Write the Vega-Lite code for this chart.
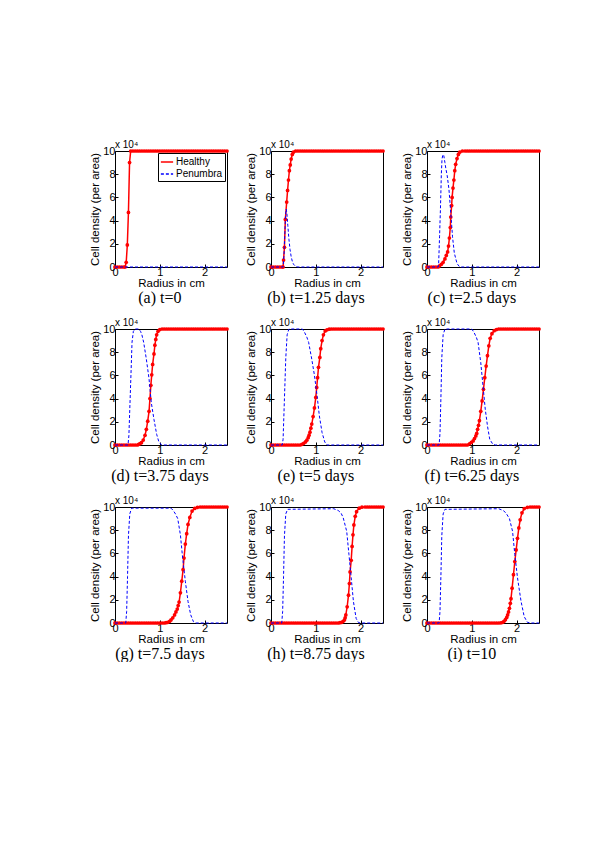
{
"$schema":"https://vega.github.io/schema/vega-lite/v6.json",
"padding":{"left":89,"top":139,"right":0,"bottom":0},
"background":"#ffffff",
"config":{
 "view":{"stroke":"#000","strokeWidth":1},
 "font":"Liberation Sans",
 "axis":{"grid":false,"domain":false,"tickColor":"#000","tickSize":-3,"labelColor":"#000","labelFont":"Liberation Sans","labelFontSize":11,"labelOverlap":false,"titleFont":"Liberation Sans","titleFontSize":11.5,"titleFontWeight":"normal","titleColor":"#000","labelPadding":2,"labelFlush":false},
 "axisX":{"titlePadding":0},
 "axisY":{"titlePadding":2,"labelPadding":3},
 "title":{"orient":"bottom","font":"Liberation Serif","fontSize":16,"fontWeight":"normal","color":"#000","frame":"bounds","offset":1},
 "legend":{"orient":"top-right","offset":2,"symbolType":"stroke","symbolSize":150,"symbolStrokeWidth":1.3,"labelFontSize":10,"labelFont":"Liberation Sans","labelColor":"#000","strokeColor":"#000","fillColor":"#fff","padding":2,"rowPadding":0,"labelOffset":2}
},
"resolve":{"scale":{"color":"independent","strokeDash":"independent"},"legend":{"color":"independent","strokeDash":"independent"}},
"columns":3,
"spacing":{"row":11,"column":14},
"datasets":{
"a":[{"s":"H","r":0,"d":0},{"s":"H","r":0.05,"d":0},{"s":"H","r":0.1,"d":0},{"s":"H","r":0.15,"d":0},{"s":"H","r":0.2,"d":0},{"s":"H","r":0.225,"d":0},{"s":"H","r":0.25,"d":0.4},{"s":"H","r":0.275,"d":1.9},{"s":"H","r":0.3,"d":4.7},{"s":"H","r":0.325,"d":9},{"s":"H","r":0.35,"d":10},{"s":"H","r":0.4,"d":10},{"s":"H","r":0.45,"d":10},{"s":"H","r":0.5,"d":10},{"s":"H","r":0.55,"d":10},{"s":"H","r":0.6,"d":10},{"s":"H","r":0.65,"d":10},{"s":"H","r":0.7,"d":10},{"s":"H","r":0.75,"d":10},{"s":"H","r":0.8,"d":10},{"s":"H","r":0.85,"d":10},{"s":"H","r":0.9,"d":10},{"s":"H","r":0.95,"d":10},{"s":"H","r":1,"d":10},{"s":"H","r":1.05,"d":10},{"s":"H","r":1.1,"d":10},{"s":"H","r":1.15,"d":10},{"s":"H","r":1.2,"d":10},{"s":"H","r":1.25,"d":10},{"s":"H","r":1.3,"d":10},{"s":"H","r":1.35,"d":10},{"s":"H","r":1.4,"d":10},{"s":"H","r":1.45,"d":10},{"s":"H","r":1.5,"d":10},{"s":"H","r":1.55,"d":10},{"s":"H","r":1.6,"d":10},{"s":"H","r":1.65,"d":10},{"s":"H","r":1.7,"d":10},{"s":"H","r":1.75,"d":10},{"s":"H","r":1.8,"d":10},{"s":"H","r":1.85,"d":10},{"s":"H","r":1.9,"d":10},{"s":"H","r":1.95,"d":10},{"s":"H","r":2,"d":10},{"s":"H","r":2.05,"d":10},{"s":"H","r":2.1,"d":10},{"s":"H","r":2.15,"d":10},{"s":"H","r":2.2,"d":10},{"s":"H","r":2.25,"d":10},{"s":"H","r":2.3,"d":10},{"s":"H","r":2.35,"d":10},{"s":"H","r":2.4,"d":10},{"s":"H","r":2.45,"d":10},{"s":"H","r":2.5,"d":10},
{"s":"P","r":0,"d":0},{"s":"P","r":2.5,"d":0}],
"b":[{"s":"H","r":0,"d":0},{"s":"H","r":0.05,"d":0},{"s":"H","r":0.1,"d":0},{"s":"H","r":0.15,"d":0},{"s":"H","r":0.2,"d":0},{"s":"H","r":0.25,"d":0},{"s":"H","r":0.27,"d":0},{"s":"H","r":0.28,"d":0.6},{"s":"H","r":0.3,"d":1.7},{"s":"H","r":0.32,"d":4.1},{"s":"H","r":0.35,"d":5.6},{"s":"H","r":0.37,"d":6.6},{"s":"H","r":0.39,"d":7.5},{"s":"H","r":0.41,"d":8.3},{"s":"H","r":0.43,"d":8.8},{"s":"H","r":0.45,"d":9.3},{"s":"H","r":0.475,"d":9.7},{"s":"H","r":0.5,"d":9.9},{"s":"H","r":0.55,"d":10},{"s":"H","r":0.6,"d":10},{"s":"H","r":0.65,"d":10},{"s":"H","r":0.7,"d":10},{"s":"H","r":0.75,"d":10},{"s":"H","r":0.8,"d":10},{"s":"H","r":0.85,"d":10},{"s":"H","r":0.9,"d":10},{"s":"H","r":0.95,"d":10},{"s":"H","r":1,"d":10},{"s":"H","r":1.05,"d":10},{"s":"H","r":1.1,"d":10},{"s":"H","r":1.15,"d":10},{"s":"H","r":1.2,"d":10},{"s":"H","r":1.25,"d":10},{"s":"H","r":1.3,"d":10},{"s":"H","r":1.35,"d":10},{"s":"H","r":1.4,"d":10},{"s":"H","r":1.45,"d":10},{"s":"H","r":1.5,"d":10},{"s":"H","r":1.55,"d":10},{"s":"H","r":1.6,"d":10},{"s":"H","r":1.65,"d":10},{"s":"H","r":1.7,"d":10},{"s":"H","r":1.75,"d":10},{"s":"H","r":1.8,"d":10},{"s":"H","r":1.85,"d":10},{"s":"H","r":1.9,"d":10},{"s":"H","r":1.95,"d":10},{"s":"H","r":2,"d":10},{"s":"H","r":2.05,"d":10},{"s":"H","r":2.1,"d":10},{"s":"H","r":2.15,"d":10},{"s":"H","r":2.2,"d":10},{"s":"H","r":2.25,"d":10},{"s":"H","r":2.3,"d":10},{"s":"H","r":2.35,"d":10},{"s":"H","r":2.4,"d":10},{"s":"H","r":2.45,"d":10},{"s":"H","r":2.5,"d":10},
{"s":"P","r":0,"d":0},{"s":"P","r":0.27,"d":0},{"s":"P","r":0.29,"d":1},{"s":"P","r":0.31,"d":3},{"s":"P","r":0.325,"d":4.5},{"s":"P","r":0.34,"d":5},{"s":"P","r":0.355,"d":4.6},{"s":"P","r":0.375,"d":3.6},{"s":"P","r":0.4,"d":2.4},{"s":"P","r":0.425,"d":1.5},{"s":"P","r":0.45,"d":0.9},{"s":"P","r":0.475,"d":0.5},{"s":"P","r":0.5,"d":0.25},{"s":"P","r":0.55,"d":0.05},{"s":"P","r":0.6,"d":0},{"s":"P","r":2.5,"d":0}],
"c":[{"s":"H","r":0,"d":0},{"s":"H","r":0.05,"d":0},{"s":"H","r":0.1,"d":0},{"s":"H","r":0.15,"d":0},{"s":"H","r":0.2,"d":0},{"s":"H","r":0.25,"d":0},{"s":"H","r":0.28,"d":0.1},{"s":"H","r":0.32,"d":0.23},{"s":"H","r":0.36,"d":0.4},{"s":"H","r":0.4,"d":0.7},{"s":"H","r":0.43,"d":1},{"s":"H","r":0.46,"d":1.3},{"s":"H","r":0.48,"d":1.8},{"s":"H","r":0.5,"d":2.5},{"s":"H","r":0.52,"d":3.4},{"s":"H","r":0.53,"d":4.3},{"s":"H","r":0.55,"d":5.3},{"s":"H","r":0.56,"d":6},{"s":"H","r":0.58,"d":6.8},{"s":"H","r":0.6,"d":7.5},{"s":"H","r":0.62,"d":8.3},{"s":"H","r":0.64,"d":8.85},{"s":"H","r":0.67,"d":9.35},{"s":"H","r":0.7,"d":9.7},{"s":"H","r":0.73,"d":9.9},{"s":"H","r":0.79,"d":10},{"s":"H","r":0.85,"d":10},{"s":"H","r":0.9,"d":10},{"s":"H","r":0.95,"d":10},{"s":"H","r":1,"d":10},{"s":"H","r":1.05,"d":10},{"s":"H","r":1.1,"d":10},{"s":"H","r":1.15,"d":10},{"s":"H","r":1.2,"d":10},{"s":"H","r":1.25,"d":10},{"s":"H","r":1.3,"d":10},{"s":"H","r":1.35,"d":10},{"s":"H","r":1.4,"d":10},{"s":"H","r":1.45,"d":10},{"s":"H","r":1.5,"d":10},{"s":"H","r":1.55,"d":10},{"s":"H","r":1.6,"d":10},{"s":"H","r":1.65,"d":10},{"s":"H","r":1.7,"d":10},{"s":"H","r":1.75,"d":10},{"s":"H","r":1.8,"d":10},{"s":"H","r":1.85,"d":10},{"s":"H","r":1.9,"d":10},{"s":"H","r":1.95,"d":10},{"s":"H","r":2,"d":10},{"s":"H","r":2.05,"d":10},{"s":"H","r":2.1,"d":10},{"s":"H","r":2.15,"d":10},{"s":"H","r":2.2,"d":10},{"s":"H","r":2.25,"d":10},{"s":"H","r":2.3,"d":10},{"s":"H","r":2.35,"d":10},{"s":"H","r":2.4,"d":10},{"s":"H","r":2.45,"d":10},{"s":"H","r":2.5,"d":10},
{"s":"P","r":0,"d":0},{"s":"P","r":0.25,"d":0},{"s":"P","r":0.26,"d":0.3},{"s":"P","r":0.28,"d":2.6},{"s":"P","r":0.3,"d":5},{"s":"P","r":0.32,"d":8},{"s":"P","r":0.335,"d":9.3},{"s":"P","r":0.355,"d":9.7},{"s":"P","r":0.375,"d":9.6},{"s":"P","r":0.4,"d":9},{"s":"P","r":0.42,"d":8.5},{"s":"P","r":0.45,"d":7.9},{"s":"P","r":0.49,"d":6.7},{"s":"P","r":0.53,"d":4.7},{"s":"P","r":0.57,"d":2.6},{"s":"P","r":0.61,"d":1.2},{"s":"P","r":0.67,"d":0.3},{"s":"P","r":0.72,"d":0.05},{"s":"P","r":0.75,"d":0},{"s":"P","r":2.5,"d":0}],
"d":[{"s":"H","r":0,"d":0},{"s":"H","r":0.05,"d":0},{"s":"H","r":0.1,"d":0},{"s":"H","r":0.15,"d":0},{"s":"H","r":0.2,"d":0},{"s":"H","r":0.25,"d":0},{"s":"H","r":0.3,"d":0},{"s":"H","r":0.35,"d":0},{"s":"H","r":0.4,"d":0},{"s":"H","r":0.45,"d":0},{"s":"H","r":0.5,"d":0},{"s":"H","r":0.53,"d":0.06},{"s":"H","r":0.56,"d":0.12},{"s":"H","r":0.59,"d":0.2},{"s":"H","r":0.63,"d":0.43},{"s":"H","r":0.67,"d":0.84},{"s":"H","r":0.7,"d":1.35},{"s":"H","r":0.73,"d":2.05},{"s":"H","r":0.76,"d":2.9},{"s":"H","r":0.78,"d":4},{"s":"H","r":0.8,"d":5.15},{"s":"H","r":0.82,"d":6.05},{"s":"H","r":0.84,"d":6.95},{"s":"H","r":0.87,"d":7.85},{"s":"H","r":0.89,"d":8.6},{"s":"H","r":0.91,"d":9.1},{"s":"H","r":0.93,"d":9.5},{"s":"H","r":0.96,"d":9.8},{"s":"H","r":1,"d":9.95},{"s":"H","r":1.05,"d":10},{"s":"H","r":1.1,"d":10},{"s":"H","r":1.15,"d":10},{"s":"H","r":1.2,"d":10},{"s":"H","r":1.25,"d":10},{"s":"H","r":1.3,"d":10},{"s":"H","r":1.35,"d":10},{"s":"H","r":1.4,"d":10},{"s":"H","r":1.45,"d":10},{"s":"H","r":1.5,"d":10},{"s":"H","r":1.55,"d":10},{"s":"H","r":1.6,"d":10},{"s":"H","r":1.65,"d":10},{"s":"H","r":1.7,"d":10},{"s":"H","r":1.75,"d":10},{"s":"H","r":1.8,"d":10},{"s":"H","r":1.85,"d":10},{"s":"H","r":1.9,"d":10},{"s":"H","r":1.95,"d":10},{"s":"H","r":2,"d":10},{"s":"H","r":2.05,"d":10},{"s":"H","r":2.1,"d":10},{"s":"H","r":2.15,"d":10},{"s":"H","r":2.2,"d":10},{"s":"H","r":2.25,"d":10},{"s":"H","r":2.3,"d":10},{"s":"H","r":2.35,"d":10},{"s":"H","r":2.4,"d":10},{"s":"H","r":2.45,"d":10},{"s":"H","r":2.5,"d":10},
{"s":"P","r":0,"d":0},{"s":"P","r":0.29,"d":0},{"s":"P","r":0.31,"d":0.8},{"s":"P","r":0.33,"d":3.1},{"s":"P","r":0.36,"d":6.5},{"s":"P","r":0.38,"d":8.85},{"s":"P","r":0.41,"d":9.8},{"s":"P","r":0.45,"d":10},{"s":"P","r":0.53,"d":10},{"s":"P","r":0.57,"d":9.8},{"s":"P","r":0.6,"d":9.5},{"s":"P","r":0.64,"d":8.85},{"s":"P","r":0.7,"d":7.4},{"s":"P","r":0.76,"d":5.7},{"s":"P","r":0.81,"d":3.66},{"s":"P","r":0.87,"d":2.2},{"s":"P","r":0.93,"d":0.92},{"s":"P","r":0.98,"d":0.26},{"s":"P","r":1.04,"d":0},{"s":"P","r":2.5,"d":0}],
"e":[{"s":"H","r":0,"d":0},{"s":"H","r":0.05,"d":0},{"s":"H","r":0.1,"d":0},{"s":"H","r":0.15,"d":0},{"s":"H","r":0.2,"d":0},{"s":"H","r":0.25,"d":0},{"s":"H","r":0.3,"d":0},{"s":"H","r":0.35,"d":0},{"s":"H","r":0.4,"d":0},{"s":"H","r":0.45,"d":0},{"s":"H","r":0.5,"d":0},{"s":"H","r":0.55,"d":0},{"s":"H","r":0.6,"d":0},{"s":"H","r":0.65,"d":0},{"s":"H","r":0.69,"d":0.06},{"s":"H","r":0.73,"d":0.15},{"s":"H","r":0.77,"d":0.26},{"s":"H","r":0.8,"d":0.42},{"s":"H","r":0.83,"d":0.63},{"s":"H","r":0.85,"d":0.85},{"s":"H","r":0.87,"d":1.1},{"s":"H","r":0.89,"d":1.45},{"s":"H","r":0.91,"d":1.8},{"s":"H","r":0.94,"d":2.45},{"s":"H","r":0.97,"d":3.2},{"s":"H","r":1,"d":4.1},{"s":"H","r":1.02,"d":4.96},{"s":"H","r":1.04,"d":5.8},{"s":"H","r":1.06,"d":6.7},{"s":"H","r":1.09,"d":7.55},{"s":"H","r":1.11,"d":8.3},{"s":"H","r":1.14,"d":9},{"s":"H","r":1.17,"d":9.5},{"s":"H","r":1.21,"d":9.83},{"s":"H","r":1.25,"d":9.93},{"s":"H","r":1.3,"d":9.98},{"s":"H","r":1.35,"d":10},{"s":"H","r":1.4,"d":10},{"s":"H","r":1.45,"d":10},{"s":"H","r":1.5,"d":10},{"s":"H","r":1.55,"d":10},{"s":"H","r":1.6,"d":10},{"s":"H","r":1.65,"d":10},{"s":"H","r":1.7,"d":10},{"s":"H","r":1.75,"d":10},{"s":"H","r":1.8,"d":10},{"s":"H","r":1.85,"d":10},{"s":"H","r":1.9,"d":10},{"s":"H","r":1.95,"d":10},{"s":"H","r":2,"d":10},{"s":"H","r":2.05,"d":10},{"s":"H","r":2.1,"d":10},{"s":"H","r":2.15,"d":10},{"s":"H","r":2.2,"d":10},{"s":"H","r":2.25,"d":10},{"s":"H","r":2.3,"d":10},{"s":"H","r":2.35,"d":10},{"s":"H","r":2.4,"d":10},{"s":"H","r":2.45,"d":10},{"s":"H","r":2.5,"d":10},
{"s":"P","r":0,"d":0},{"s":"P","r":0.25,"d":0},{"s":"P","r":0.27,"d":0.5},{"s":"P","r":0.3,"d":4},{"s":"P","r":0.33,"d":7.5},{"s":"P","r":0.36,"d":9.5},{"s":"P","r":0.4,"d":10},{"s":"P","r":0.7,"d":10},{"s":"P","r":0.75,"d":9.7},{"s":"P","r":0.8,"d":9.3},{"s":"P","r":0.84,"d":8.85},{"s":"P","r":0.91,"d":7.4},{"s":"P","r":0.97,"d":6},{"s":"P","r":1.03,"d":4.2},{"s":"P","r":1.08,"d":2.5},{"s":"P","r":1.14,"d":1.07},{"s":"P","r":1.2,"d":0.26},{"s":"P","r":1.25,"d":0},{"s":"P","r":2.5,"d":0}],
"f":[{"s":"H","r":0,"d":0},{"s":"H","r":0.05,"d":0},{"s":"H","r":0.1,"d":0},{"s":"H","r":0.15,"d":0},{"s":"H","r":0.2,"d":0},{"s":"H","r":0.25,"d":0},{"s":"H","r":0.3,"d":0},{"s":"H","r":0.35,"d":0},{"s":"H","r":0.4,"d":0},{"s":"H","r":0.45,"d":0},{"s":"H","r":0.5,"d":0},{"s":"H","r":0.55,"d":0},{"s":"H","r":0.6,"d":0},{"s":"H","r":0.65,"d":0},{"s":"H","r":0.7,"d":0},{"s":"H","r":0.75,"d":0},{"s":"H","r":0.8,"d":0},{"s":"H","r":0.85,"d":0},{"s":"H","r":0.9,"d":0},{"s":"H","r":0.95,"d":0.1},{"s":"H","r":0.99,"d":0.22},{"s":"H","r":1.03,"d":0.35},{"s":"H","r":1.06,"d":0.55},{"s":"H","r":1.09,"d":0.78},{"s":"H","r":1.11,"d":1},{"s":"H","r":1.13,"d":1.35},{"s":"H","r":1.15,"d":1.7},{"s":"H","r":1.17,"d":2.1},{"s":"H","r":1.2,"d":2.9},{"s":"H","r":1.23,"d":3.8},{"s":"H","r":1.26,"d":4.8},{"s":"H","r":1.29,"d":5.8},{"s":"H","r":1.32,"d":6.8},{"s":"H","r":1.35,"d":7.7},{"s":"H","r":1.38,"d":8.55},{"s":"H","r":1.41,"d":9.2},{"s":"H","r":1.45,"d":9.6},{"s":"H","r":1.5,"d":9.85},{"s":"H","r":1.55,"d":9.95},{"s":"H","r":1.6,"d":10},{"s":"H","r":1.65,"d":10},{"s":"H","r":1.7,"d":10},{"s":"H","r":1.75,"d":10},{"s":"H","r":1.8,"d":10},{"s":"H","r":1.85,"d":10},{"s":"H","r":1.9,"d":10},{"s":"H","r":1.95,"d":10},{"s":"H","r":2,"d":10},{"s":"H","r":2.05,"d":10},{"s":"H","r":2.1,"d":10},{"s":"H","r":2.15,"d":10},{"s":"H","r":2.2,"d":10},{"s":"H","r":2.25,"d":10},{"s":"H","r":2.3,"d":10},{"s":"H","r":2.35,"d":10},{"s":"H","r":2.4,"d":10},{"s":"H","r":2.45,"d":10},{"s":"H","r":2.5,"d":10},
{"s":"P","r":0,"d":0},{"s":"P","r":0.27,"d":0},{"s":"P","r":0.29,"d":1},{"s":"P","r":0.31,"d":4},{"s":"P","r":0.33,"d":7.5},{"s":"P","r":0.36,"d":9.5},{"s":"P","r":0.4,"d":10},{"s":"P","r":1,"d":10},{"s":"P","r":1.05,"d":9.7},{"s":"P","r":1.1,"d":9.3},{"s":"P","r":1.14,"d":8.85},{"s":"P","r":1.2,"d":7.1},{"s":"P","r":1.25,"d":5.1},{"s":"P","r":1.3,"d":3.1},{"s":"P","r":1.35,"d":1.64},{"s":"P","r":1.4,"d":0.5},{"s":"P","r":1.47,"d":0.06},{"s":"P","r":1.53,"d":0},{"s":"P","r":2.5,"d":0}],
"g":[{"s":"H","r":0,"d":0},{"s":"H","r":0.05,"d":0},{"s":"H","r":0.1,"d":0},{"s":"H","r":0.15,"d":0},{"s":"H","r":0.2,"d":0},{"s":"H","r":0.25,"d":0},{"s":"H","r":0.3,"d":0},{"s":"H","r":0.35,"d":0},{"s":"H","r":0.4,"d":0},{"s":"H","r":0.45,"d":0},{"s":"H","r":0.5,"d":0},{"s":"H","r":0.55,"d":0},{"s":"H","r":0.6,"d":0},{"s":"H","r":0.65,"d":0},{"s":"H","r":0.7,"d":0},{"s":"H","r":0.75,"d":0},{"s":"H","r":0.8,"d":0},{"s":"H","r":0.85,"d":0},{"s":"H","r":0.9,"d":0},{"s":"H","r":0.95,"d":0},{"s":"H","r":1,"d":0},{"s":"H","r":1.05,"d":0},{"s":"H","r":1.1,"d":0},{"s":"H","r":1.14,"d":0.03},{"s":"H","r":1.18,"d":0.06},{"s":"H","r":1.22,"d":0.15},{"s":"H","r":1.25,"d":0.26},{"s":"H","r":1.29,"d":0.45},{"s":"H","r":1.33,"d":0.7},{"s":"H","r":1.36,"d":0.95},{"s":"H","r":1.39,"d":1.2},{"s":"H","r":1.41,"d":1.5},{"s":"H","r":1.43,"d":1.8},{"s":"H","r":1.46,"d":2.6},{"s":"H","r":1.49,"d":3.6},{"s":"H","r":1.52,"d":4.6},{"s":"H","r":1.54,"d":5.6},{"s":"H","r":1.57,"d":6.8},{"s":"H","r":1.6,"d":7.7},{"s":"H","r":1.63,"d":8.5},{"s":"H","r":1.67,"d":9.1},{"s":"H","r":1.72,"d":9.65},{"s":"H","r":1.78,"d":9.88},{"s":"H","r":1.84,"d":9.97},{"s":"H","r":1.9,"d":10},{"s":"H","r":1.95,"d":10},{"s":"H","r":2,"d":10},{"s":"H","r":2.05,"d":10},{"s":"H","r":2.1,"d":10},{"s":"H","r":2.15,"d":10},{"s":"H","r":2.2,"d":10},{"s":"H","r":2.25,"d":10},{"s":"H","r":2.3,"d":10},{"s":"H","r":2.35,"d":10},{"s":"H","r":2.4,"d":10},{"s":"H","r":2.45,"d":10},{"s":"H","r":2.5,"d":10},
{"s":"P","r":0,"d":0},{"s":"P","r":0.24,"d":0},{"s":"P","r":0.26,"d":1},{"s":"P","r":0.28,"d":4},{"s":"P","r":0.3,"d":7.5},{"s":"P","r":0.33,"d":9.4},{"s":"P","r":0.37,"d":9.9},{"s":"P","r":1.25,"d":9.9},{"s":"P","r":1.3,"d":9.7},{"s":"P","r":1.35,"d":9.4},{"s":"P","r":1.4,"d":9},{"s":"P","r":1.46,"d":7.6},{"s":"P","r":1.51,"d":5.6},{"s":"P","r":1.57,"d":3.6},{"s":"P","r":1.63,"d":1.85},{"s":"P","r":1.69,"d":0.7},{"s":"P","r":1.75,"d":0.12},{"s":"P","r":1.81,"d":0},{"s":"P","r":2.5,"d":0}],
"h":[{"s":"H","r":0,"d":0},{"s":"H","r":0.05,"d":0},{"s":"H","r":0.1,"d":0},{"s":"H","r":0.15,"d":0},{"s":"H","r":0.2,"d":0},{"s":"H","r":0.25,"d":0},{"s":"H","r":0.3,"d":0},{"s":"H","r":0.35,"d":0},{"s":"H","r":0.4,"d":0},{"s":"H","r":0.45,"d":0},{"s":"H","r":0.5,"d":0},{"s":"H","r":0.55,"d":0},{"s":"H","r":0.6,"d":0},{"s":"H","r":0.65,"d":0},{"s":"H","r":0.7,"d":0},{"s":"H","r":0.75,"d":0},{"s":"H","r":0.8,"d":0},{"s":"H","r":0.85,"d":0},{"s":"H","r":0.9,"d":0},{"s":"H","r":0.95,"d":0},{"s":"H","r":1,"d":0},{"s":"H","r":1.05,"d":0},{"s":"H","r":1.1,"d":0},{"s":"H","r":1.15,"d":0},{"s":"H","r":1.2,"d":0},{"s":"H","r":1.25,"d":0},{"s":"H","r":1.3,"d":0},{"s":"H","r":1.35,"d":0},{"s":"H","r":1.4,"d":0},{"s":"H","r":1.45,"d":0},{"s":"H","r":1.5,"d":0},{"s":"H","r":1.54,"d":0.03},{"s":"H","r":1.58,"d":0.06},{"s":"H","r":1.61,"d":0.15},{"s":"H","r":1.64,"d":0.26},{"s":"H","r":1.655,"d":0.45},{"s":"H","r":1.67,"d":0.7},{"s":"H","r":1.7,"d":1.4},{"s":"H","r":1.73,"d":2.4},{"s":"H","r":1.75,"d":3.4},{"s":"H","r":1.765,"d":4.4},{"s":"H","r":1.79,"d":5.4},{"s":"H","r":1.81,"d":6.6},{"s":"H","r":1.83,"d":7.6},{"s":"H","r":1.85,"d":8.45},{"s":"H","r":1.88,"d":9.2},{"s":"H","r":1.91,"d":9.6},{"s":"H","r":1.97,"d":9.9},{"s":"H","r":2.03,"d":9.98},{"s":"H","r":2.1,"d":10},{"s":"H","r":2.15,"d":10},{"s":"H","r":2.2,"d":10},{"s":"H","r":2.25,"d":10},{"s":"H","r":2.3,"d":10},{"s":"H","r":2.35,"d":10},{"s":"H","r":2.4,"d":10},{"s":"H","r":2.45,"d":10},{"s":"H","r":2.5,"d":10},
{"s":"P","r":0,"d":0},{"s":"P","r":0.24,"d":0},{"s":"P","r":0.26,"d":1},{"s":"P","r":0.28,"d":4},{"s":"P","r":0.3,"d":7.5},{"s":"P","r":0.33,"d":9.4},{"s":"P","r":0.37,"d":9.8},{"s":"P","r":1.4,"d":9.85},{"s":"P","r":1.5,"d":9.7},{"s":"P","r":1.56,"d":9.5},{"s":"P","r":1.61,"d":9.1},{"s":"P","r":1.69,"d":7.9},{"s":"P","r":1.74,"d":5.9},{"s":"P","r":1.79,"d":3.9},{"s":"P","r":1.84,"d":1.85},{"s":"P","r":1.9,"d":0.4},{"s":"P","r":1.95,"d":0.05},{"s":"P","r":1.99,"d":0},{"s":"P","r":2.5,"d":0}],
"i":[{"s":"H","r":0,"d":0},{"s":"H","r":0.05,"d":0},{"s":"H","r":0.1,"d":0},{"s":"H","r":0.15,"d":0},{"s":"H","r":0.2,"d":0},{"s":"H","r":0.25,"d":0},{"s":"H","r":0.3,"d":0},{"s":"H","r":0.35,"d":0},{"s":"H","r":0.4,"d":0},{"s":"H","r":0.45,"d":0},{"s":"H","r":0.5,"d":0},{"s":"H","r":0.55,"d":0},{"s":"H","r":0.6,"d":0},{"s":"H","r":0.65,"d":0},{"s":"H","r":0.7,"d":0},{"s":"H","r":0.75,"d":0},{"s":"H","r":0.8,"d":0},{"s":"H","r":0.85,"d":0},{"s":"H","r":0.9,"d":0},{"s":"H","r":0.95,"d":0},{"s":"H","r":1,"d":0},{"s":"H","r":1.05,"d":0},{"s":"H","r":1.1,"d":0},{"s":"H","r":1.15,"d":0},{"s":"H","r":1.2,"d":0},{"s":"H","r":1.25,"d":0},{"s":"H","r":1.3,"d":0},{"s":"H","r":1.35,"d":0},{"s":"H","r":1.4,"d":0},{"s":"H","r":1.45,"d":0},{"s":"H","r":1.5,"d":0},{"s":"H","r":1.55,"d":0},{"s":"H","r":1.6,"d":0},{"s":"H","r":1.65,"d":0.02},{"s":"H","r":1.69,"d":0.06},{"s":"H","r":1.72,"d":0.15},{"s":"H","r":1.75,"d":0.29},{"s":"H","r":1.78,"d":0.48},{"s":"H","r":1.8,"d":0.7},{"s":"H","r":1.82,"d":0.95},{"s":"H","r":1.84,"d":1.27},{"s":"H","r":1.86,"d":1.7},{"s":"H","r":1.875,"d":2.1},{"s":"H","r":1.9,"d":3},{"s":"H","r":1.93,"d":4.16},{"s":"H","r":1.96,"d":5.3},{"s":"H","r":1.99,"d":6.3},{"s":"H","r":2.02,"d":7.3},{"s":"H","r":2.05,"d":8.2},{"s":"H","r":2.08,"d":8.9},{"s":"H","r":2.12,"d":9.5},{"s":"H","r":2.17,"d":9.86},{"s":"H","r":2.24,"d":9.97},{"s":"H","r":2.3,"d":10},{"s":"H","r":2.35,"d":10},{"s":"H","r":2.4,"d":10},{"s":"H","r":2.45,"d":10},{"s":"H","r":2.5,"d":10},
{"s":"P","r":0,"d":0},{"s":"P","r":0.27,"d":0},{"s":"P","r":0.29,"d":1},{"s":"P","r":0.31,"d":4},{"s":"P","r":0.33,"d":7.5},{"s":"P","r":0.36,"d":9.4},{"s":"P","r":0.4,"d":9.8},{"s":"P","r":1.6,"d":9.85},{"s":"P","r":1.7,"d":9.7},{"s":"P","r":1.76,"d":9.5},{"s":"P","r":1.84,"d":9},{"s":"P","r":1.91,"d":7.9},{"s":"P","r":1.96,"d":5.9},{"s":"P","r":2.02,"d":3.9},{"s":"P","r":2.1,"d":1.85},{"s":"P","r":2.17,"d":0.55},{"s":"P","r":2.24,"d":0.06},{"s":"P","r":2.32,"d":0},{"s":"P","r":2.5,"d":0}],
"note":[{"t":"x 10⁴"}]
},
"concat":[
{"width":112,"height":116,"title":"(a) t=0",
 "layer":[
  {"encoding":{"x":{"field":"r","type":"quantitative","scale":{"domain":[0,2.5],"nice":false},"axis":{"values":[0,1,2],"title":"Radius in cm","labelOverlap":false}},"y":{"field":"d","type":"quantitative","scale":{"domain":[0,10],"nice":false},"axis":{"values":[0,2,4,6,8,10],"tickCount":6,"title":"Cell density (per area)","labelOverlap":false,"labelBound":false}}},
   "layer":[
    {"data":{"name":"a"},"transform":[{"filter":"datum.s=='H'"}],"mark":{"type":"line","strokeWidth":1.5},"encoding":{"color":{"field":"s","type":"nominal","scale":{"domain":["H","P"],"range":["#ff0000","#0000ff"]},"legend":{"title":null,"labelExpr":"datum.label=='H'?'Healthy':'Penumbra'"}},"strokeDash":{"field":"s","type":"nominal","scale":{"domain":["H","P"],"range":[[1,0],[3,2]]},"legend":{"title":null,"labelExpr":"datum.label=='H'?'Healthy':'Penumbra'"}}}},
    {"data":{"name":"a"},"transform":[{"filter":"datum.s=='H'"}],"mark":{"type":"circle","color":"#ff0000","size":14,"opacity":1}},
    {"data":{"name":"a"},"transform":[{"filter":"datum.s=='P'"}],"mark":{"type":"line","strokeWidth":1},"encoding":{"color":{"field":"s","type":"nominal","scale":{"domain":["H","P"],"range":["#ff0000","#0000ff"]},"legend":{"title":null,"labelExpr":"datum.label=='H'?'Healthy':'Penumbra'"}},"strokeDash":{"field":"s","type":"nominal","scale":{"domain":["H","P"],"range":[[1,0],[3,2]]},"legend":{"title":null,"labelExpr":"datum.label=='H'?'Healthy':'Penumbra'"}}}}
   ]},
  {"data":{"name":"note"},"mark":{"type":"text","align":"left","baseline":"bottom","fontSize":10,"dy":-1,"font":"Liberation Sans","color":"#000"},"encoding":{"x":{"datum":0,"type":"quantitative"},"y":{"datum":10,"type":"quantitative"},"text":{"field":"t"}}}
 ]},
{"width":112,"height":116,"title":"(b) t=1.25 days",
 "layer":[
  {"encoding":{"x":{"field":"r","type":"quantitative","scale":{"domain":[0,2.5],"nice":false},"axis":{"values":[0,1,2],"title":"Radius in cm","labelOverlap":false}},"y":{"field":"d","type":"quantitative","scale":{"domain":[0,10],"nice":false},"axis":{"values":[0,2,4,6,8,10],"tickCount":6,"title":"Cell density (per area)","labelOverlap":false,"labelBound":false}}},
   "layer":[
    {"data":{"name":"b"},"transform":[{"filter":"datum.s=='H'"}],"mark":{"type":"line","strokeWidth":1.5,"color":"#ff0000"}},
    {"data":{"name":"b"},"transform":[{"filter":"datum.s=='H'"}],"mark":{"type":"circle","color":"#ff0000","size":14,"opacity":1}},
    {"data":{"name":"b"},"transform":[{"filter":"datum.s=='P'"}],"mark":{"type":"line","strokeWidth":1,"color":"#0000ff","strokeDash":[3,2]}}
   ]},
  {"data":{"name":"note"},"mark":{"type":"text","align":"left","baseline":"bottom","fontSize":10,"dy":-1,"font":"Liberation Sans","color":"#000"},"encoding":{"x":{"datum":0,"type":"quantitative"},"y":{"datum":10,"type":"quantitative"},"text":{"field":"t"}}}
 ]},
{"width":112,"height":116,"title":"(c) t=2.5 days",
 "layer":[
  {"encoding":{"x":{"field":"r","type":"quantitative","scale":{"domain":[0,2.5],"nice":false},"axis":{"values":[0,1,2],"title":"Radius in cm","labelOverlap":false}},"y":{"field":"d","type":"quantitative","scale":{"domain":[0,10],"nice":false},"axis":{"values":[0,2,4,6,8,10],"tickCount":6,"title":"Cell density (per area)","labelOverlap":false,"labelBound":false}}},
   "layer":[
    {"data":{"name":"c"},"transform":[{"filter":"datum.s=='H'"}],"mark":{"type":"line","strokeWidth":1.5,"color":"#ff0000"}},
    {"data":{"name":"c"},"transform":[{"filter":"datum.s=='H'"}],"mark":{"type":"circle","color":"#ff0000","size":14,"opacity":1}},
    {"data":{"name":"c"},"transform":[{"filter":"datum.s=='P'"}],"mark":{"type":"line","strokeWidth":1,"color":"#0000ff","strokeDash":[3,2]}}
   ]},
  {"data":{"name":"note"},"mark":{"type":"text","align":"left","baseline":"bottom","fontSize":10,"dy":-1,"font":"Liberation Sans","color":"#000"},"encoding":{"x":{"datum":0,"type":"quantitative"},"y":{"datum":10,"type":"quantitative"},"text":{"field":"t"}}}
 ]},
{"width":112,"height":116,"title":"(d) t=3.75 days",
 "layer":[
  {"encoding":{"x":{"field":"r","type":"quantitative","scale":{"domain":[0,2.5],"nice":false},"axis":{"values":[0,1,2],"title":"Radius in cm","labelOverlap":false}},"y":{"field":"d","type":"quantitative","scale":{"domain":[0,10],"nice":false},"axis":{"values":[0,2,4,6,8,10],"tickCount":6,"title":"Cell density (per area)","labelOverlap":false,"labelBound":false}}},
   "layer":[
    {"data":{"name":"d"},"transform":[{"filter":"datum.s=='H'"}],"mark":{"type":"line","strokeWidth":1.5,"color":"#ff0000"}},
    {"data":{"name":"d"},"transform":[{"filter":"datum.s=='H'"}],"mark":{"type":"circle","color":"#ff0000","size":14,"opacity":1}},
    {"data":{"name":"d"},"transform":[{"filter":"datum.s=='P'"}],"mark":{"type":"line","strokeWidth":1,"color":"#0000ff","strokeDash":[3,2]}}
   ]},
  {"data":{"name":"note"},"mark":{"type":"text","align":"left","baseline":"bottom","fontSize":10,"dy":-1,"font":"Liberation Sans","color":"#000"},"encoding":{"x":{"datum":0,"type":"quantitative"},"y":{"datum":10,"type":"quantitative"},"text":{"field":"t"}}}
 ]},
{"width":112,"height":116,"title":"(e) t=5 days",
 "layer":[
  {"encoding":{"x":{"field":"r","type":"quantitative","scale":{"domain":[0,2.5],"nice":false},"axis":{"values":[0,1,2],"title":"Radius in cm","labelOverlap":false}},"y":{"field":"d","type":"quantitative","scale":{"domain":[0,10],"nice":false},"axis":{"values":[0,2,4,6,8,10],"tickCount":6,"title":"Cell density (per area)","labelOverlap":false,"labelBound":false}}},
   "layer":[
    {"data":{"name":"e"},"transform":[{"filter":"datum.s=='H'"}],"mark":{"type":"line","strokeWidth":1.5,"color":"#ff0000"}},
    {"data":{"name":"e"},"transform":[{"filter":"datum.s=='H'"}],"mark":{"type":"circle","color":"#ff0000","size":14,"opacity":1}},
    {"data":{"name":"e"},"transform":[{"filter":"datum.s=='P'"}],"mark":{"type":"line","strokeWidth":1,"color":"#0000ff","strokeDash":[3,2]}}
   ]},
  {"data":{"name":"note"},"mark":{"type":"text","align":"left","baseline":"bottom","fontSize":10,"dy":-1,"font":"Liberation Sans","color":"#000"},"encoding":{"x":{"datum":0,"type":"quantitative"},"y":{"datum":10,"type":"quantitative"},"text":{"field":"t"}}}
 ]},
{"width":112,"height":116,"title":"(f) t=6.25 days",
 "layer":[
  {"encoding":{"x":{"field":"r","type":"quantitative","scale":{"domain":[0,2.5],"nice":false},"axis":{"values":[0,1,2],"title":"Radius in cm","labelOverlap":false}},"y":{"field":"d","type":"quantitative","scale":{"domain":[0,10],"nice":false},"axis":{"values":[0,2,4,6,8,10],"tickCount":6,"title":"Cell density (per area)","labelOverlap":false,"labelBound":false}}},
   "layer":[
    {"data":{"name":"f"},"transform":[{"filter":"datum.s=='H'"}],"mark":{"type":"line","strokeWidth":1.5,"color":"#ff0000"}},
    {"data":{"name":"f"},"transform":[{"filter":"datum.s=='H'"}],"mark":{"type":"circle","color":"#ff0000","size":14,"opacity":1}},
    {"data":{"name":"f"},"transform":[{"filter":"datum.s=='P'"}],"mark":{"type":"line","strokeWidth":1,"color":"#0000ff","strokeDash":[3,2]}}
   ]},
  {"data":{"name":"note"},"mark":{"type":"text","align":"left","baseline":"bottom","fontSize":10,"dy":-1,"font":"Liberation Sans","color":"#000"},"encoding":{"x":{"datum":0,"type":"quantitative"},"y":{"datum":10,"type":"quantitative"},"text":{"field":"t"}}}
 ]},
{"width":112,"height":116,"title":"(g) t=7.5 days",
 "layer":[
  {"encoding":{"x":{"field":"r","type":"quantitative","scale":{"domain":[0,2.5],"nice":false},"axis":{"values":[0,1,2],"title":"Radius in cm","labelOverlap":false}},"y":{"field":"d","type":"quantitative","scale":{"domain":[0,10],"nice":false},"axis":{"values":[0,2,4,6,8,10],"tickCount":6,"title":"Cell density (per area)","labelOverlap":false,"labelBound":false}}},
   "layer":[
    {"data":{"name":"g"},"transform":[{"filter":"datum.s=='H'"}],"mark":{"type":"line","strokeWidth":1.5,"color":"#ff0000"}},
    {"data":{"name":"g"},"transform":[{"filter":"datum.s=='H'"}],"mark":{"type":"circle","color":"#ff0000","size":14,"opacity":1}},
    {"data":{"name":"g"},"transform":[{"filter":"datum.s=='P'"}],"mark":{"type":"line","strokeWidth":1,"color":"#0000ff","strokeDash":[3,2]}}
   ]},
  {"data":{"name":"note"},"mark":{"type":"text","align":"left","baseline":"bottom","fontSize":10,"dy":-1,"font":"Liberation Sans","color":"#000"},"encoding":{"x":{"datum":0,"type":"quantitative"},"y":{"datum":10,"type":"quantitative"},"text":{"field":"t"}}}
 ]},
{"width":112,"height":116,"title":"(h) t=8.75 days",
 "layer":[
  {"encoding":{"x":{"field":"r","type":"quantitative","scale":{"domain":[0,2.5],"nice":false},"axis":{"values":[0,1,2],"title":"Radius in cm","labelOverlap":false}},"y":{"field":"d","type":"quantitative","scale":{"domain":[0,10],"nice":false},"axis":{"values":[0,2,4,6,8,10],"tickCount":6,"title":"Cell density (per area)","labelOverlap":false,"labelBound":false}}},
   "layer":[
    {"data":{"name":"h"},"transform":[{"filter":"datum.s=='H'"}],"mark":{"type":"line","strokeWidth":1.5,"color":"#ff0000"}},
    {"data":{"name":"h"},"transform":[{"filter":"datum.s=='H'"}],"mark":{"type":"circle","color":"#ff0000","size":14,"opacity":1}},
    {"data":{"name":"h"},"transform":[{"filter":"datum.s=='P'"}],"mark":{"type":"line","strokeWidth":1,"color":"#0000ff","strokeDash":[3,2]}}
   ]},
  {"data":{"name":"note"},"mark":{"type":"text","align":"left","baseline":"bottom","fontSize":10,"dy":-1,"font":"Liberation Sans","color":"#000"},"encoding":{"x":{"datum":0,"type":"quantitative"},"y":{"datum":10,"type":"quantitative"},"text":{"field":"t"}}}
 ]},
{"width":112,"height":116,"title":"(i) t=10",
 "layer":[
  {"encoding":{"x":{"field":"r","type":"quantitative","scale":{"domain":[0,2.5],"nice":false},"axis":{"values":[0,1,2],"title":"Radius in cm","labelOverlap":false}},"y":{"field":"d","type":"quantitative","scale":{"domain":[0,10],"nice":false},"axis":{"values":[0,2,4,6,8,10],"tickCount":6,"title":"Cell density (per area)","labelOverlap":false,"labelBound":false}}},
   "layer":[
    {"data":{"name":"i"},"transform":[{"filter":"datum.s=='H'"}],"mark":{"type":"line","strokeWidth":1.5,"color":"#ff0000"}},
    {"data":{"name":"i"},"transform":[{"filter":"datum.s=='H'"}],"mark":{"type":"circle","color":"#ff0000","size":14,"opacity":1}},
    {"data":{"name":"i"},"transform":[{"filter":"datum.s=='P'"}],"mark":{"type":"line","strokeWidth":1,"color":"#0000ff","strokeDash":[3,2]}}
   ]},
  {"data":{"name":"note"},"mark":{"type":"text","align":"left","baseline":"bottom","fontSize":10,"dy":-1,"font":"Liberation Sans","color":"#000"},"encoding":{"x":{"datum":0,"type":"quantitative"},"y":{"datum":10,"type":"quantitative"},"text":{"field":"t"}}}
 ]}
]
}
